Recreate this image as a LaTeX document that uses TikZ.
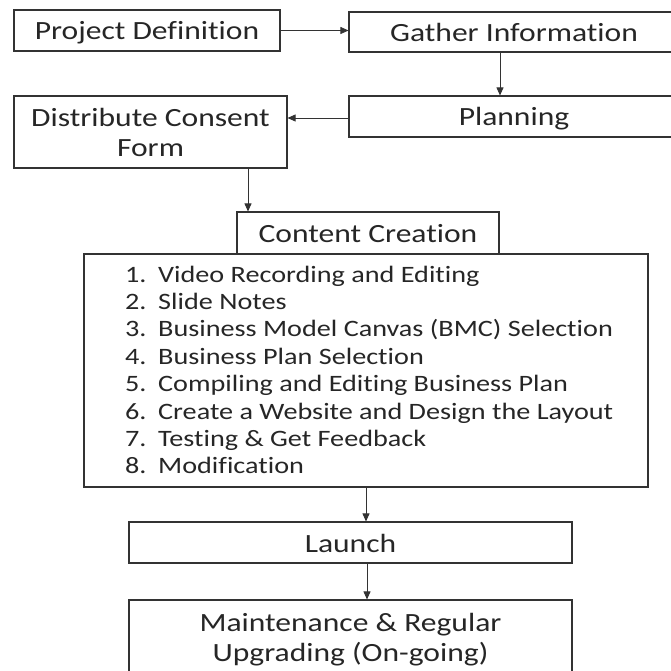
\documentclass[tikz,border=0pt]{standalone}
\usepackage{fontspec}
\setmainfont{Carlito}[FakeStretch=1.2,Ligatures={NoCommon,NoContextual},RawFeature={-liga;-clig;-dlig}]
\usetikzlibrary{arrows.meta}
\begin{document}
\begin{tikzpicture}[x=1pt,y=-1pt,
  box/.style={draw=black!80,line width=1.1pt,inner sep=0pt,align=center,
    font=\fontsize{26.3}{30}\selectfont,text=black!85},
  one/.style={text height=19pt,text depth=0pt},
  conn/.style={draw=black!80,line width=0.8pt,-{Triangle[length=8pt,width=7pt]}},
  item/.style={anchor=base west,inner sep=0pt,font=\fontsize{23.5}{28}\selectfont,text=black!85}]
\useasboundingbox (0,0) rectangle (671,671);
\clip (0,0) rectangle (671,671);
\node[box,one,minimum width=266pt,minimum height=41pt] (pd) at (147,30.5) {Project Definition};
\node[box,one,minimum width=330pt,minimum height=40pt] (gi) at (514,32) {Gather Information};
\node[box,one,minimum width=330pt,minimum height=41pt] (pl) at (514,116.5) {Planning};
\node[box,minimum width=273pt,minimum height=72pt] (dc) at (150.5,132) {Distribute Consent\\Form};
\node[box,one,minimum width=262pt,minimum height=42pt] (cc) at (368,233) {Content Creation};
\node[box,minimum width=564pt,minimum height=233pt] (lst) at (366,370.5) {};
\node[box,one,minimum width=443pt,minimum height=41pt] (la) at (350.5,542.5) {Launch};
\node[box,minimum width=443pt,minimum height=80pt] (mt) at (350.5,640) {Maintenance \& Regular\\Upgrading (On-going)};
\foreach \n/\t [count=\i] in {1/Video Recording and Editing,2/Slide Notes,3/Business Model Canvas (BMC) Selection,4/Business Plan Selection,5/Compiling and Editing Business Plan,6/Create a Website and Design the Layout,7/Testing \& Get Feedback,8/Modification}{
  \node[item] (num\i) at (125,{282+27.4*(\i-1)}) {\n.};
  \node[item] (it\i) at (158,{282+27.4*(\i-1)}) {\t};
}
\draw[conn] (pd.east) -- (pd.east -| gi.west);
\draw[conn] (gi.south -| 500,0) -- (pl.north -| 500,0);
\draw[conn] (pl.west |- 0,118) -- (dc.east |- 0,118);
\draw[conn] (dc.south -| 248,0) -- (cc.north -| 248,0);
\draw[conn] (lst.south) -- (la.north -| lst.south);
\draw[conn] (la.south -| 367,0) -- (mt.north -| 367,0);
\end{tikzpicture}
\end{document}
